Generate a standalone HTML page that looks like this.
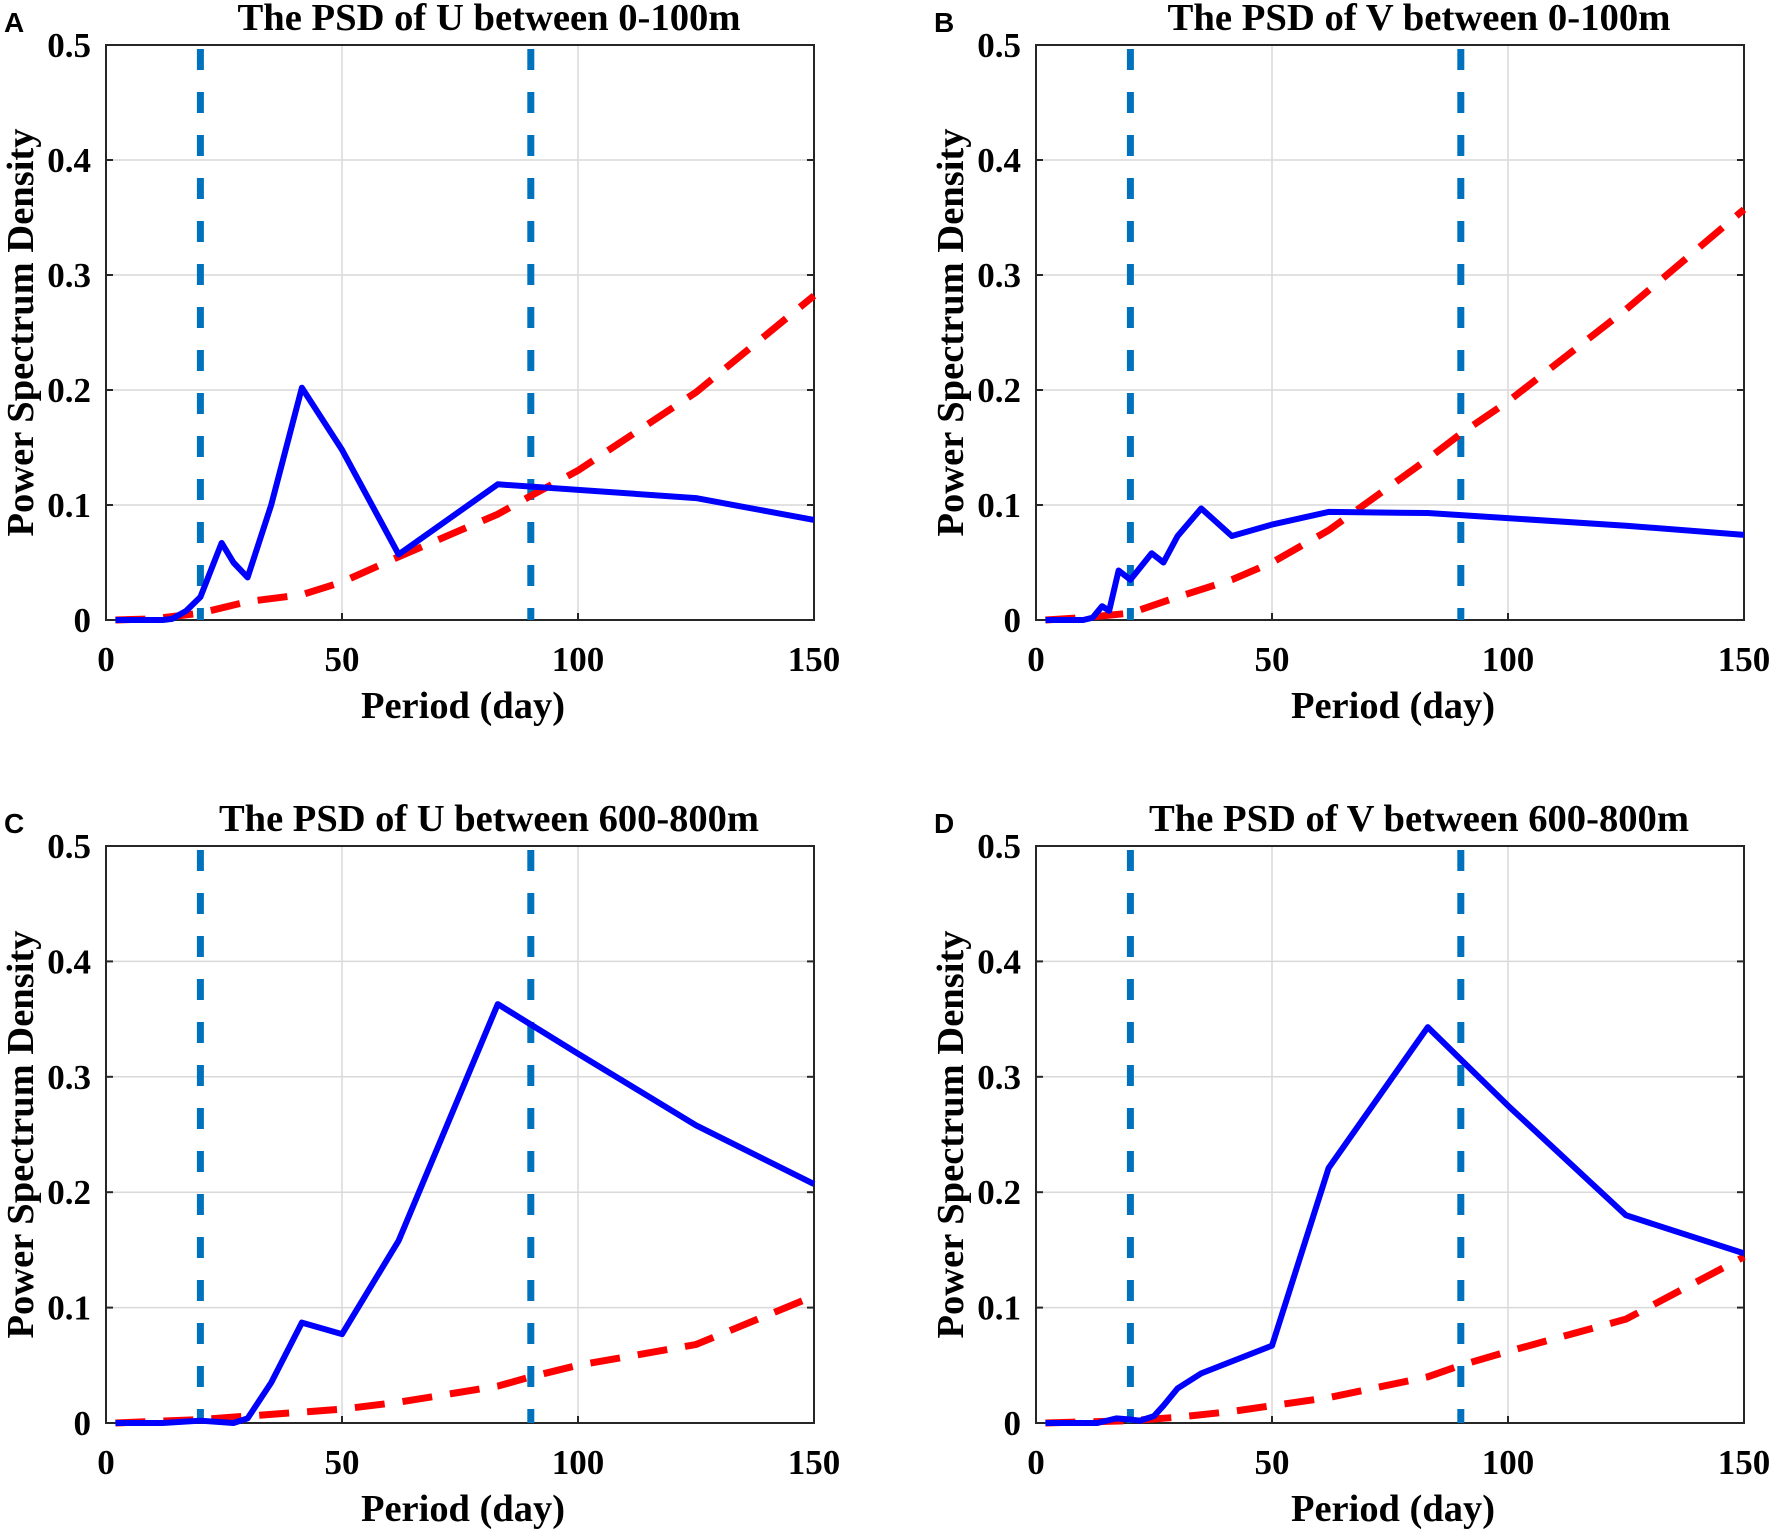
<!DOCTYPE html>
<html><head><meta charset="utf-8"><style>
body{margin:0;background:#fff;}
svg{display:block;}
text{font-family:"Liberation Serif",serif;font-weight:bold;fill:#000;}
.lbl{font-family:"Liberation Sans",sans-serif;}
</style></head><body>
<svg id="fig" width="1772" height="1531" viewBox="0 0 1772 1531"></svg>
<script>
const xTicks=[0,50,100,150];
const yTicks=[0,0.1,0.2,0.3,0.4,0.5];
const yTickLabels=["0","0.1","0.2","0.3","0.4","0.5"];
const xTickLabels=["0","50","100","150"];
const vLines=[20,90];
const titles=["The PSD of U between 0-100m","The PSD of V between 0-100m","The PSD of U between 600-800m","The PSD of V between 600-800m"];
const letters=["A","B","C","D"];
const blueA_x=[2,10,12,14,17,20,24.5,27,30,35,41.5,50,62,83,125,150];
const blueA_y=[0,0,0,0.001,0.008,0.02,0.067,0.05,0.037,0.1,0.202,0.148,0.057,0.118,0.106,0.087];
const redA_x=[2,10,20,30,41.5,50,62,83,90,100,125,150];
const redA_y=[0,0.001,0.006,0.016,0.022,0.033,0.055,0.092,0.108,0.13,0.198,0.282];
const blueB_x=[2,10,12,14,15.5,17.5,20,24.5,27,30,35,41.5,50,62,83,125,150];
const blueB_y=[0,0,0.002,0.012,0.008,0.043,0.035,0.058,0.05,0.073,0.097,0.073,0.083,0.094,0.093,0.082,0.074];
const redB_x=[2,10,20,30,41.5,50,62,83,90,100,125,150];
const redB_y=[0,0.002,0.006,0.02,0.035,0.05,0.078,0.14,0.162,0.19,0.27,0.357];
const blueC_x=[2,12,20,27,30,35,41.5,50,62,83,100,125,150];
const blueC_y=[0,0,0.002,0,0.004,0.035,0.087,0.077,0.158,0.363,0.32,0.258,0.207];
const redC_x=[2,20,30,50,62,83,90,100,125,150];
const redC_y=[0,0.003,0.006,0.012,0.018,0.032,0.04,0.05,0.068,0.11];
const blueD_x=[2,13,17,20,22,25,27,30,35,50,62,83,100,125,150];
const blueD_y=[0,0,0.004,0.003,0.002,0.006,0.015,0.03,0.043,0.067,0.221,0.343,0.275,0.18,0.147];
const redD_x=[2,20,30,41.5,50,62,83,90,100,125,150];
const redD_y=[0,0.002,0.005,0.01,0.015,0.022,0.04,0.05,0.062,0.09,0.144];

const NS="http://www.w3.org/2000/svg";
const svg=document.getElementById('fig');
function mk(tag,attrs,parent){const e=document.createElementNS(NS,tag);for(const k in attrs)e.setAttribute(k,attrs[k]);(parent||svg).appendChild(e);return e;}
const panels=[
 {L:106,T:45,R:814,B:620,bx:blueA_x,by:blueA_y,rx:redA_x,ry:redA_y},
 {L:1036,T:45,R:1744,B:620,bx:blueB_x,by:blueB_y,rx:redB_x,ry:redB_y},
 {L:106,T:846,R:814,B:1423,bx:blueC_x,by:blueC_y,rx:redC_x,ry:redC_y},
 {L:1036,T:846,R:1744,B:1423,bx:blueD_x,by:blueD_y,rx:redD_x,ry:redD_y}];
panels.forEach((p,i)=>{
 const g=mk('g',{});
 
 
 const X=v=>p.L+(v/150)*(p.R-p.L);
 const Y=v=>p.B-(v/0.5)*(p.B-p.T);
 xTicks.forEach((t,k)=>{
  if(t>0&&t<150){const l=mk('line',{x1:X(t),x2:X(t),y1:p.T,y2:p.B,stroke:'#d9d9d9','stroke-width':1.5},g);
   }
  const tx=mk('text',{x:X(t),y:p.B+51,'font-size':35,'text-anchor':'middle'},g);tx.textContent=xTickLabels[k];
  
  mk('line',{x1:X(t),x2:X(t),y1:p.B,y2:p.B-7,stroke:'#262626','stroke-width':2},g);
 });
 yTicks.forEach((t,k)=>{
  if(t>0&&t<0.5){const l=mk('line',{x1:p.L,x2:p.R,y1:Y(t),y2:Y(t),stroke:'#d9d9d9','stroke-width':1.5},g);
   }
  const tx=mk('text',{x:p.L-15,y:Y(t)+12,'font-size':35,'text-anchor':'end'},g);tx.textContent=yTickLabels[k];
  
  mk('line',{x1:p.L,x2:p.L+7,y1:Y(t),y2:Y(t),stroke:'#262626','stroke-width':2},g);
  mk('line',{x1:p.R,x2:p.R-7,y1:Y(t),y2:Y(t),stroke:'#262626','stroke-width':2},g);
 });
 const fr=mk('rect',{x:p.L,y:p.T,width:p.R-p.L,height:p.B-p.T,fill:'none',stroke:'#262626','stroke-width':2},g);
 
 vLines.forEach(v=>{const l=mk('line',{x1:X(v),x2:X(v),y1:p.T+4,y2:p.B,stroke:'#0072BD','stroke-width':7,'stroke-dasharray':'21 22'},g);
  });
 const rp=mk('polyline',{points:p.rx.map((x,k)=>X(x)+','+Y(p.ry[k])).join(' '),fill:'none',stroke:'#ff0000','stroke-width':7,'stroke-dasharray':'30 18'},g);
 
 const bp=mk('polyline',{points:p.bx.map((x,k)=>X(x)+','+Y(p.by[k])).join(' '),fill:'none',stroke:'#0000ff','stroke-width':6,'stroke-linejoin':'round'},g);
 
 const tw=(i<2?503:540);
 const ti=mk('text',{x:(p.L+p.R)/2+29,y:p.T-15,'font-size':38,'text-anchor':'middle',textLength:tw,lengthAdjust:'spacingAndGlyphs'},g);ti.textContent=titles[i];
 
 const xt=mk('text',{x:(p.L+p.R)/2+3,y:p.B+98,'font-size':38,'text-anchor':'middle',textLength:204,lengthAdjust:'spacingAndGlyphs'},g);xt.textContent='Period (day)';
 
 const yx=p.L-73,yy=(p.T+p.B)/2;
 const yt=mk('text',{x:yx,y:yy,'font-size':38,'text-anchor':'middle',textLength:408,lengthAdjust:'spacingAndGlyphs',transform:'rotate(-90 '+yx+' '+yy+')'},g);yt.textContent='Power Spectrum Density';
 
 const lt=mk('text',{x:p.L-102,y:p.T-13,'font-size':28,class:'lbl'},g);lt.textContent=letters[i];
 
});
</script>
</body></html>
